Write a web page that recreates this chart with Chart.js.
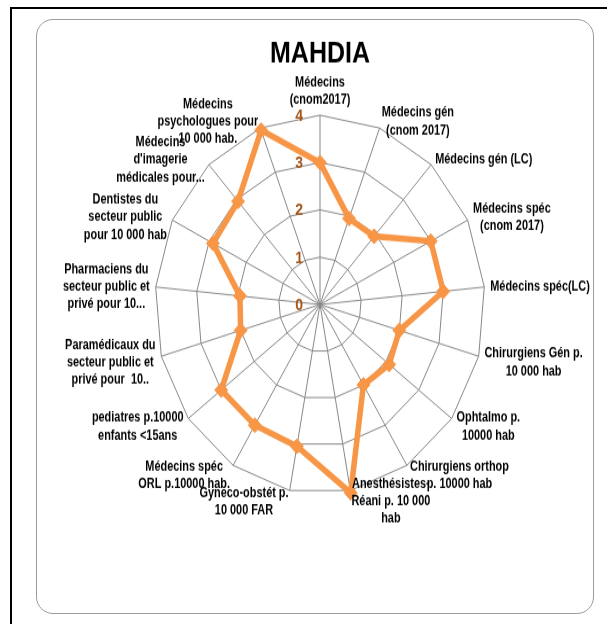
<!DOCTYPE html>
<html>
<head>
<meta charset="utf-8">
<script src="https://cdn.jsdelivr.net/npm/chart.js@4.4.1/dist/chart.umd.min.js"></script>
<style>
  html, body { margin: 0; padding: 0; background: #fff; overflow: hidden; }
  .frame {
    position: absolute; left: 10px; top: 7px; width: 700px; height: 700px;
    border: 2px solid #000;
  }
  .panel {
    position: absolute; left: 36px; top: 19px; width: 558px; height: 595px;
    box-sizing: border-box; border: 1.5px solid #9c9c9c; border-radius: 17px;
  }
  .stretch {
    position: absolute; left: 37px; top: 20px; width: 556px; height: 517px;
    transform: scaleY(1.147); transform-origin: 0 0;
  }
</style>
</head>
<body>
<div class="frame"></div>
<div class="panel"></div>
<div class="stretch"><canvas id="radarChart" width="556" height="517"></canvas></div>
<script>
document.addEventListener("DOMContentLoaded", () => {

  const FONT = "'Liberation Sans', Arial, sans-serif";
  const NARROW = 0.84; // squeeze axis names to a condensed width

  // Axes, clockwise from the top
  const categories = [
    ["Médecins", "(cnom2017)"],
    ["Médecins gén", "(cnom 2017)"],
    ["Médecins gén (LC)"],
    ["Médecins spéc", "(cnom 2017)"],
    ["Médecins spéc(LC)"],
    ["Chirurgiens Gén p.", "10 000 hab"],
    ["Ophtalmo p.", "10000 hab"],
    ["Chirurgiens orthop", "p. 10000 hab"],
    ["Anesthésistes-", "Réani p. 10 000", "hab"],
    ["Gyneco-obstét p.", "10 000 FAR"],
    ["Médecins spéc", "ORL p.10000 hab."],
    ["pediatres p.10000", "enfants <15ans"],
    ["Paramédicaux du", "secteur public et", "privé pour  10.."],
    ["Pharmaciens du", "secteur public et", "privé pour 10..."],
    ["Dentistes du", "secteur public", "pour 10 000 hab"],
    ["Médecins", "d'imagerie", "médicales pour..."],
    ["Médecins", "psychologues pour", "10 000 hab."],
  ];

  const mahdia = [3, 1.95, 1.95, 3, 3, 2, 2.1, 2, 4.05, 3.05, 3, 3, 2, 1.95, 2.9, 2.95, 3.95];

  const tickValues = [0, 1, 2, 3, 4];

  const ORANGE = "#F79646";

  // multi-line axis names, lines centred inside each block
  const axisNames = {
    id: "axisNames",
    afterDatasetsDraw(chart) {
      const scale = chart.scales.r;
      const ctx = chart.ctx;
      const lineH = 15.3;
      ctx.save();
      ctx.font = "bold 13px " + FONT;
      ctx.fillStyle = "#000";
      ctx.textAlign = "center";
      ctx.textBaseline = "middle";
      categories.forEach((lines, i) => {
        const p = scale.getPointPosition(i, scale.drawingArea + 6);
        const a = scale.getIndexAngle(i);
        const s = Math.sin(a), c = Math.cos(a);
        const w = NARROW * Math.max(...lines.map(l => ctx.measureText(l).width));
        const h = lines.length * lineH;
        let cx = p.x;
        if (s > 0.05) cx = p.x + w / 2;
        else if (s < -0.05) cx = p.x - w / 2;
        let top = p.y - h / 2 + (c < 0 ? 3.5 : 0);
        if (c > 0.98) top = p.y - h;
        lines.forEach((l, k) => {
          ctx.save();
          ctx.translate(cx, top + lineH * (k + 0.5));
          ctx.scale(NARROW, 1);
          ctx.fillText(l, 0, 0);
          ctx.restore();
        });
      });
      ctx.restore();
    }
  };

  // value labels sit left of the vertical axis
  const tickNumbers = {
    id: "tickNumbers",
    afterDatasetsDraw(chart) {
      const scale = chart.scales.r;
      const ctx = chart.ctx;
      ctx.save();
      ctx.font = "bold 14px " + FONT;
      ctx.fillStyle = "#a4561a";
      ctx.textAlign = "right";
      ctx.textBaseline = "middle";
      scale.ticks.forEach(t => {
        const p = scale.getPointPositionForValue(0, t.value);
        ctx.fillText(String(t.value), p.x - 17, p.y + 1);
      });
      ctx.restore();
    }
  };

  new Chart(document.getElementById("radarChart"), {
    type: "radar",
    data: {
      labels: categories,
      datasets: [
        {
          label: "MAHDIA",
          data: mahdia,
          borderColor: ORANGE,
          backgroundColor: ORANGE,
          borderWidth: 5.5,
          pointStyle: "rectRot",
          pointRadius: 6.5,
          pointBorderWidth: 1,
          pointBackgroundColor: ORANGE,
          pointBorderColor: ORANGE,
          fill: false,
          tension: 0,
          clip: false,
        },
      ],
    },
    options: {
      responsive: false,
      animation: false,
      layout: { padding: { left: 118, right: 108, top: 0, bottom: 104 } },
      plugins: {
        legend: { display: false },
        tooltip: { enabled: false },
        title: {
          display: true,
          text: "MAHDIA",
          color: "#000",
          font: { family: FONT, size: 25, weight: "bold" },
          padding: { top: 15, bottom: 38 },
        },
      },
      scales: {
        r: {
          min: 0,
          max: 4,
          afterBuildTicks: s => { s.ticks = tickValues.map(v => ({ value: v })); },
          ticks: { display: false },
          pointLabels: { display: false },
          grid: { circular: false, color: "#878787", lineWidth: 1 },
          angleLines: { color: "#878787", lineWidth: 1 },
        },
      },
    },
    plugins: [axisNames, tickNumbers],
  });
});
</script>
</body>
</html>
